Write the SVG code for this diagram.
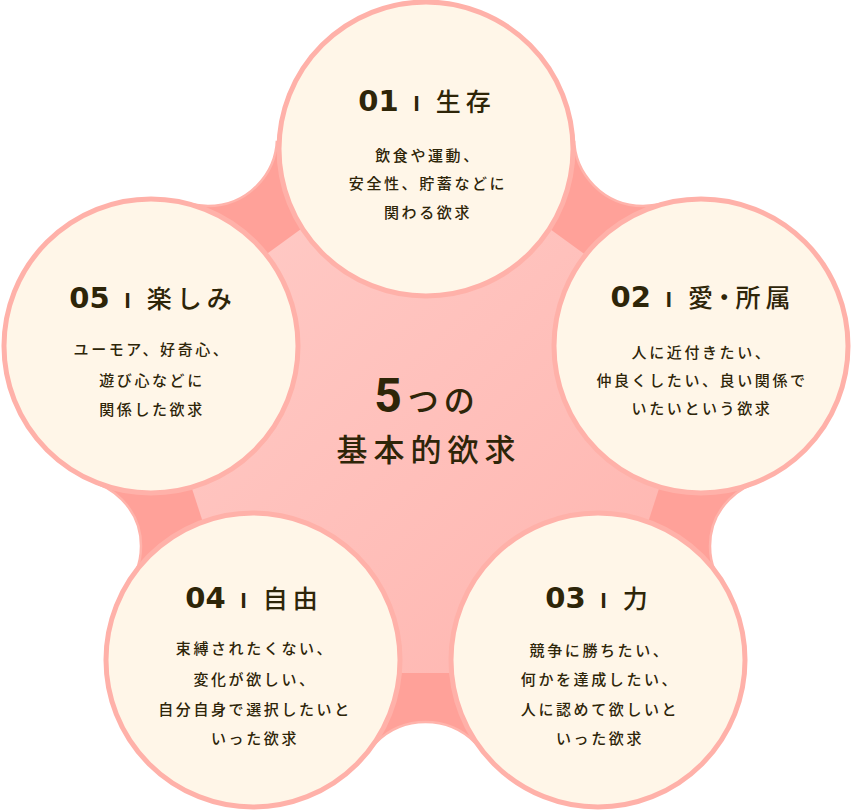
<svg xmlns="http://www.w3.org/2000/svg" width="851" height="811" viewBox="0 0 851 811">
<defs>
<linearGradient id="lg" x1="0" y1="0" x2="1" y2="1">
<stop offset="0" stop-color="#ffcdc9"/>
<stop offset="1" stop-color="#ffb4ae"/>
</linearGradient>
<clipPath id="dclip"><polygon points="426,149 643,137 700,346 776,546 598,660 425.5,792 253,660 75,546 151,346 208,137"/></clipPath>
</defs>
<style>
.bridge{fill:#ffa199}
.cut{fill:#ffffff}
.cutline{fill:none;stroke:#ffb3ab;stroke-width:2.5}
.core{fill:url(#lg)}
.ring{fill:#fff6e8;stroke:#ffb1a9;stroke-width:5}
text{fill:#2e2508;text-anchor:middle;font-family:"Noto Sans CJK JP","Noto Sans",sans-serif}
.n{font-family:"DejaVu Sans",sans-serif;font-weight:700;font-size:29px}
.b{font-family:"Liberation Sans",Arial,sans-serif;font-size:22px;font-weight:700}
.k{font-size:25px;font-weight:500;letter-spacing:5px}
.p{font-feature-settings:"palt"}
.d{font-size:15px;font-weight:500;letter-spacing:2.6px}
.c5{font-family:Roboto,"Noto Sans",sans-serif;font-weight:700;font-size:48px}
.ck{font-size:31px;font-weight:500;letter-spacing:5px}
</style>
<rect width="851" height="811" fill="#ffffff"/>
<g id="background">
<polygon class="bridge" points="426,149 643,137 700,346 776,546 598,660 425.5,792 253,660 75,546 151,346 208,137"/>
<circle class="cut" cx="643" cy="137" r="69"/>
<circle class="cut" cx="208" cy="137" r="69"/>
<circle class="cut" cx="776" cy="546" r="66"/>
<circle class="cut" cx="75" cy="546" r="66"/>
<circle class="cut" cx="425.5" cy="792" r="70"/>
<g clip-path="url(#dclip)">
<circle class="cutline" cx="643" cy="137" r="69"/>
<circle class="cutline" cx="208" cy="137" r="69"/>
<circle class="cutline" cx="776" cy="546" r="66"/>
<circle class="cutline" cx="75" cy="546" r="66"/>
<circle class="cutline" cx="425.5" cy="792" r="70"/>
</g>
<polygon class="core" points="425.5,138.6 706.4,342.7 599.1,673 251.9,673 144.6,342.7"/>
</g>
<g id="connectors"></g>
<g id="node-center">
<text x="427" y="412"><tspan class="c5">5</tspan><tspan class="ck" dx="6">つの</tspan></text>
<text class="ck" x="429" y="461" style="letter-spacing:6px">基本的欲求</text>
</g>
<g id="node-1">
<circle class="ring" cx="426" cy="149" r="147"/>
<text x="427" y="111"><tspan class="n">01</tspan><tspan class="b" dx="15">I</tspan><tspan class="k" dx="16">生存</tspan></text>
<text class="d" x="428" y="161">飲食や運動、</text>
<text class="d" x="428" y="189">安全性、貯蓄などに</text>
<text class="d" x="428" y="218">関わる欲求</text>
</g>
<g id="node-2">
<circle class="ring" cx="701" cy="346" r="147"/>
<text x="703" y="307"><tspan class="n">02</tspan><tspan class="b" dx="15">I</tspan><tspan class="k p" dx="16">愛・所属</tspan></text>
<text class="d" x="702" y="358">人に近付きたい、</text>
<text class="d" x="702" y="386">仲良くしたい、良い関係で</text>
<text class="d" x="702" y="414">いたいという欲求</text>
</g>
<g id="node-3">
<circle class="ring" cx="598" cy="660" r="147"/>
<text x="599" y="608"><tspan class="n">03</tspan><tspan class="b" dx="15">I</tspan><tspan class="k" dx="16">力</tspan></text>
<text class="d" x="600" y="656">競争に勝ちたい、</text>
<text class="d" x="600" y="685">何かを達成したい、</text>
<text class="d" x="600" y="715">人に認めて欲しいと</text>
<text class="d" x="600" y="744">いった欲求</text>
</g>
<g id="node-4">
<circle class="ring" cx="253" cy="660" r="147"/>
<text x="254" y="608"><tspan class="n">04</tspan><tspan class="b" dx="15">I</tspan><tspan class="k" dx="16">自由</tspan></text>
<text class="d" x="255" y="654">束縛されたくない、</text>
<text class="d" x="255" y="685">変化が欲しい、</text>
<text class="d" x="255" y="715">自分自身で選択したいと</text>
<text class="d" x="255" y="744">いった欲求</text>
</g>
<g id="node-5">
<circle class="ring" cx="151" cy="346" r="147"/>
<text x="153" y="308"><tspan class="n">05</tspan><tspan class="b" dx="15">I</tspan><tspan class="k" dx="16">楽しみ</tspan></text>
<text class="d" x="152" y="355">ユーモア、好奇心、</text>
<text class="d" x="152" y="386">遊び心などに</text>
<text class="d" x="152" y="415">関係した欲求</text>
</g>
</svg>
